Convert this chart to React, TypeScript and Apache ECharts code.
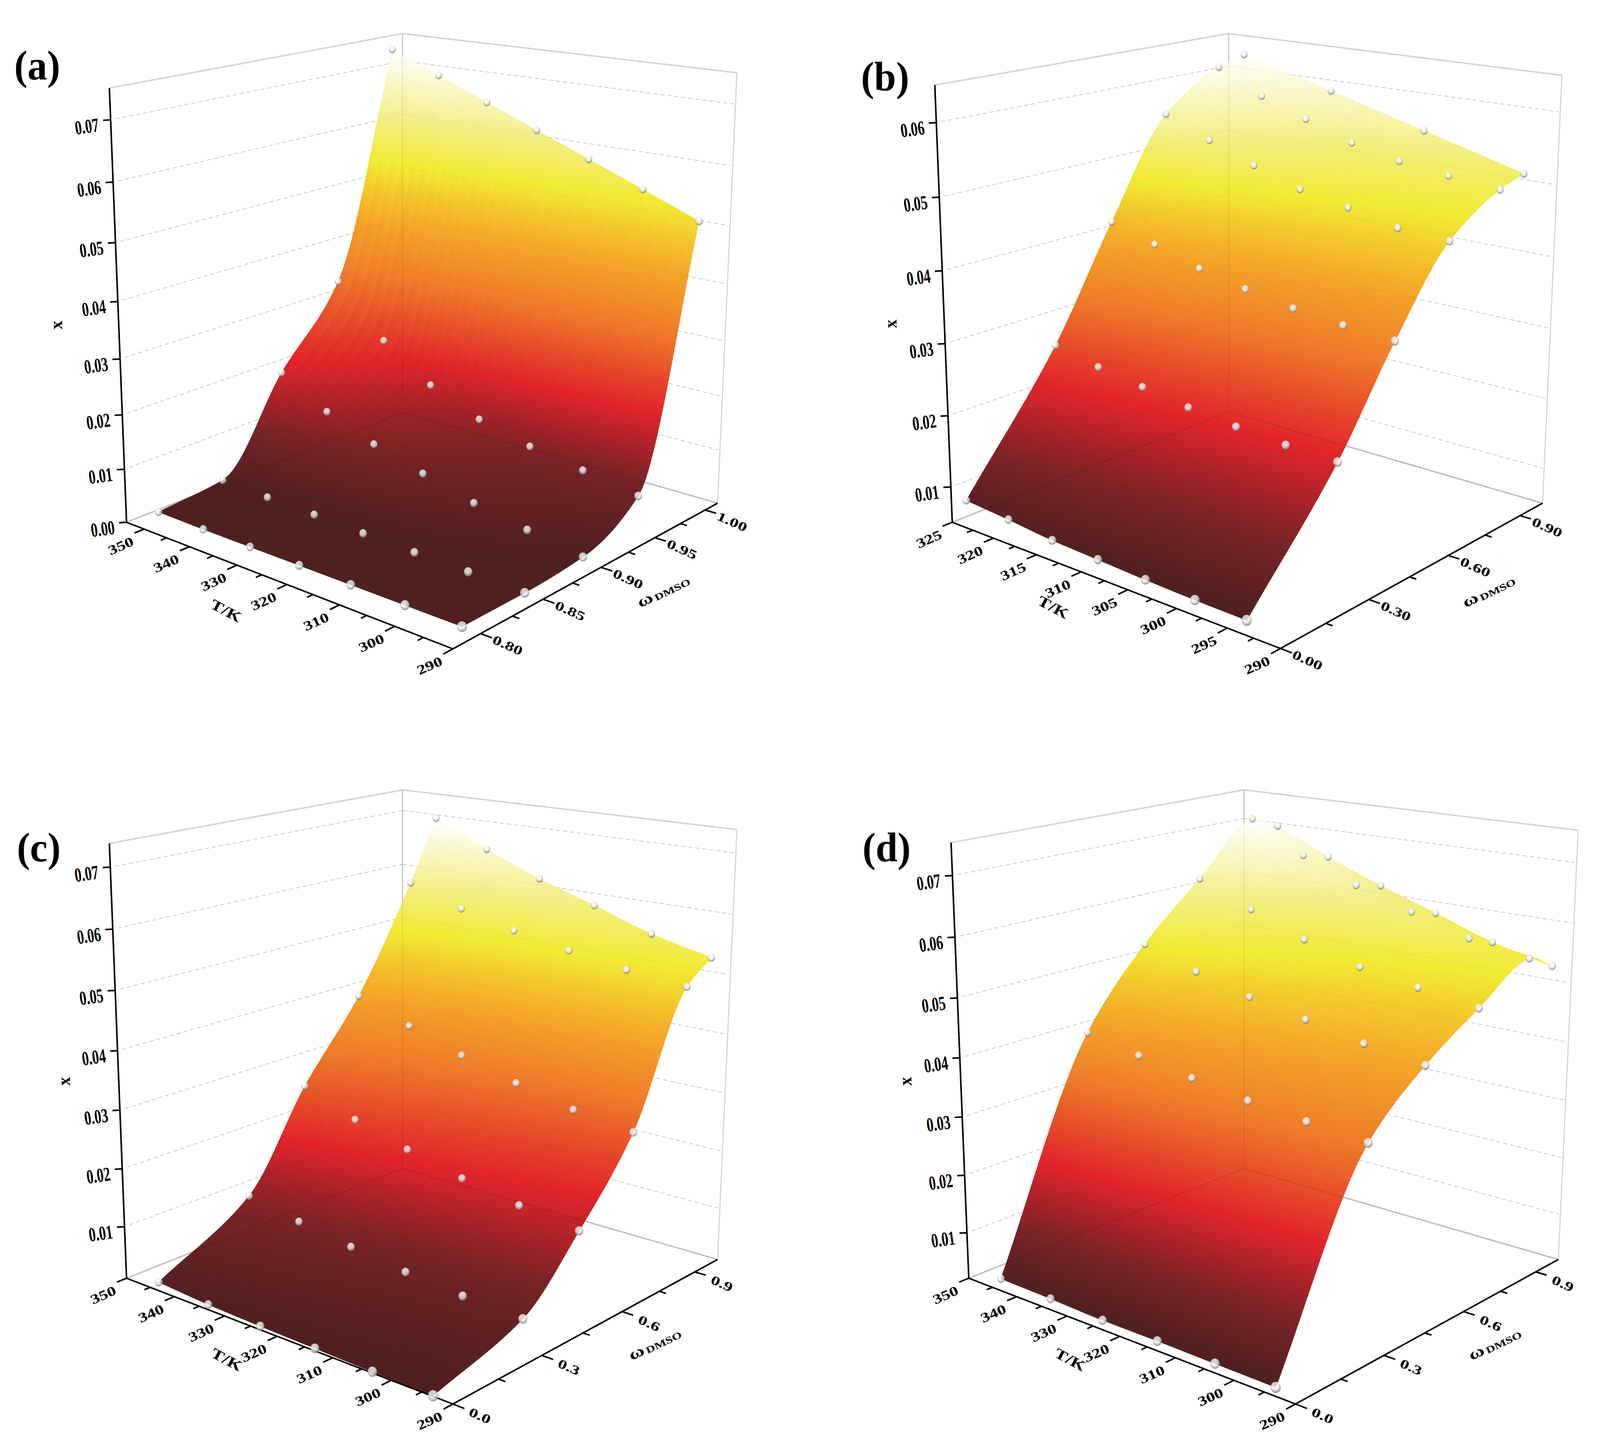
import React, { useEffect, useRef } from "react";
import * as echarts from "echarts";

const W = 4261, H = 3704;

// ---- read values ----
const temps7a = [353.15, 343.15, 333.15, 323.15, 313.15, 303.15, 293.15];
const temps7b = [323.15, 318.15, 313.15, 308.15, 303.15, 298.15, 293.15];
const temps6 = [343.15, 333.15, 323.15, 313.15, 303.15, 293.15];
const omegaA = [0.8, 0.85, 0.9, 0.95, 1.0];
const omegaB = [0, 0.3, 0.5, 0.7, 0.9, 1.0];

const xA = [
  [0.0001, 0, 0, 0, 0, 0, 0],
  [0.0013, 0.001, 0.0008, 0.0005, 0.0003, 0.0002, 0],
  [0.0179, 0.0129, 0.0094, 0.0067, 0.0042, 0.0024, 0.0008],
  [0.0319, 0.0226, 0.0164, 0.0124, 0.01, 0.0084, 0.0067],
  [0.0727, 0.0691, 0.0655, 0.0619, 0.0583, 0.0547, 0.051],
];
const xB = [
  [0.0089, 0.0084, 0.0078, 0.0075, 0.0072, 0.007, 0.0069],
  [0.0262, 0.0248, 0.0238, 0.0228, 0.0221, 0.0216, 0.0214],
  [0.0416, 0.0397, 0.0377, 0.0363, 0.0352, 0.0345, 0.0341],
  [0.0555, 0.0527, 0.0502, 0.048, 0.0467, 0.0452, 0.0448],
  [0.0609, 0.0575, 0.0551, 0.0527, 0.0512, 0.0503, 0.0496],
  [0.0621, 0.0602, 0.0584, 0.0565, 0.0546, 0.0527, 0.0508],
];
const hiddenB = [[5, 1], [5, 3], [5, 5]];
const xC = [
  [0.0025, 0.0019, 0.0016, 0.0014, 0.0012, 0.0011],
  [0.0113, 0.0096, 0.0082, 0.007, 0.0062, 0.0058],
  [0.0273, 0.0237, 0.021, 0.0187, 0.0169, 0.0156],
  [0.0405, 0.0371, 0.034, 0.0314, 0.0292, 0.0279],
  [0.0586, 0.0554, 0.0531, 0.0513, 0.0498, 0.0488],
  [0.0694, 0.065, 0.0611, 0.0579, 0.0546, 0.0523],
];
const xD = [
  [0.0041, 0.0039, 0.0036, 0.0036, 0.0035, 0.0034],
  [0.0411, 0.0393, 0.0378, 0.0364, 0.0355, 0.0347],
  [0.0537, 0.0507, 0.0483, 0.0465, 0.0447, 0.0434],
  [0.0629, 0.059, 0.0554, 0.0525, 0.0509, 0.0495],
  [0.0717, 0.0664, 0.0625, 0.0594, 0.0565, 0.0549],
  [0.0694, 0.0651, 0.0613, 0.058, 0.0546, 0.0523],
];

const zTicksAll = [0.07, 0.06, 0.05, 0.04, 0.03, 0.02, 0.01];
const tTicks10 = [350, 340, 330, 320, 310, 300, 290];
const tMinor10 = [345, 335, 325, 315, 305, 295];
const tTicks5 = [325, 320, 315, 310, 305, 300, 295, 290];
const tMinor5 = [322.5, 317.5, 312.5, 307.5, 302.5, 297.5, 292.5];
const wTicksA = [0.8, 0.85, 0.9, 0.95, 1.0];
const wMinorA = [0.825, 0.875, 0.925, 0.975];
const wTicksB = [0, 0.3, 0.6, 0.9];
const wMinorB = [0.15, 0.45, 0.75];

type Pt = number[];
const panels: any[] = [
  {
    label: "(a)", labelAt: [38, 167],
    O: [1072, 1056], L: [337, 1337], R: [1911, 1288], F: [1206, 1661], Tb: [1072, 86], Lt: [289, 215], Rt: [1960, 195],
    Tmin: 290, Tmax: 354, wmin: 0.779, wmax: 1.013, zmin: 0, zmax: 0.075,
    Ts: temps7a, ws: omegaA, xs: xA, hidden: [],
    zTicks: [...zTicksAll, 0], zDigits: 2, tTicks: tTicks10, tMinor: tMinor10, wTicks: wTicksA, wMinor: wMinorA, wDigits: 2,
    tTitle: [602, 1563], xTitle: [149, 832], wTitle: [1766, 1512],
  },
  {
    label: "(b)", labelAt: [2293, 196],
    O: [3272, 1054], L: [2536, 1337], R: [4108, 1288], F: [3410, 1660], Tb: [3272, 86], Lt: [2489, 215], Rt: [4159, 195],
    Tmin: 290, Tmax: 325, wmin: 0, wmax: 1, zmin: 0.005, zmax: 0.065,
    Ts: temps7b, ws: omegaB, xs: xB, hidden: hiddenB,
    zTicks: zTicksAll.slice(1), zDigits: 2, tTicks: tTicks5, tMinor: tMinor5, wTicks: wTicksB, wMinor: wMinorB, wDigits: 2,
    tTitle: [2805, 1554], xTitle: [2372, 829], wTitle: [3964, 1512],
  },
  {
    label: "(c)", labelAt: [45, 2169],
    O: [1072, 2991], L: [337, 3272], R: [1911, 3224], F: [1206, 3594], Tb: [1072, 2022], Lt: [289, 2150], Rt: [1960, 2131],
    Tmin: 290, Tmax: 350, wmin: 0, wmax: 1, zmin: 0.001, zmax: 0.0738,
    Ts: temps6, ws: omegaB, xs: xC, hidden: [],
    zTicks: zTicksAll, zDigits: 2, tTicks: tTicks10, tMinor: tMinor10, wTicks: wTicksB, wMinor: wMinorB, wDigits: 1,
    tTitle: [604, 3480], xTitle: [170, 2768], wTitle: [1743, 3439],
  },
  {
    label: "(d)", labelAt: [2297, 2169],
    O: [3313, 2991], L: [2580, 3272], R: [4150, 3224], F: [3450, 3594], Tb: [3313, 2022], Lt: [2532, 2150], Rt: [4202, 2131],
    Tmin: 290, Tmax: 350, wmin: 0, wmax: 1, zmin: 0.002, zmax: 0.0753,
    Ts: temps6, ws: omegaB, xs: xD, hidden: [],
    zTicks: zTicksAll, zDigits: 2, tTicks: tTicks10, tMinor: tMinor10, wTicks: wTicksB, wMinor: wMinorB, wDigits: 1,
    tTitle: [2850, 3480], xTitle: [2411, 2768], wTitle: [3980, 3439],
  },
];

const FONT = "Liberation Serif";
const colorStops: [number, number[]][] = [
  [0, [78, 32, 33]],
  [0.12, [122, 35, 38]],
  [0.27, [226, 36, 43]],
  [0.45, [238, 122, 41]],
  [0.6, [245, 171, 40]],
  [0.73, [241, 235, 50]],
  [0.85, [243, 240, 145]],
  [1, [255, 255, 255]],
];
function colormap(f: number) {
  const t = Math.max(0, Math.min(1, f));
  for (let i = 1; i < colorStops.length; i++) {
    if (t <= colorStops[i][0]) {
      const [a, ca] = colorStops[i - 1];
      const [b, cb] = colorStops[i];
      const k = (t - a) / (b - a);
      const c = ca.map((v, j) => Math.round(v + (cb[j] - v) * k));
      return `rgb(${c[0]},${c[1]},${c[2]})`;
    }
  }
  return "#fff";
}

// monotone cubic through the read values (used only to paint a smooth surface)
function pchip(xs: number[], ys: number[], x: number) {
  const n = xs.length;
  const h: number[] = [], d: number[] = [];
  for (let i = 0; i < n - 1; i++) { h.push(xs[i + 1] - xs[i]); d.push((ys[i + 1] - ys[i]) / h[i]); }
  const m = new Array(n).fill(0);
  m[0] = d[0]; m[n - 1] = d[n - 2];
  for (let i = 1; i < n - 1; i++) {
    if (d[i - 1] * d[i] <= 0) m[i] = 0;
    else {
      const w1 = 2 * h[i] + h[i - 1], w2 = h[i] + 2 * h[i - 1];
      m[i] = (w1 + w2) / (w1 / d[i - 1] + w2 / d[i]);
    }
  }
  let k = 0;
  while (k < n - 2 && x > xs[k + 1]) k++;
  const t = (x - xs[k]) / h[k];
  const t2 = t * t, t3 = t2 * t;
  return (2 * t3 - 3 * t2 + 1) * ys[k] + (t3 - 2 * t2 + t) * h[k] * m[k] + (-2 * t3 + 3 * t2) * ys[k + 1] + (t3 - t2) * h[k] * m[k + 1];
}

function makeProjection(p: any) {
  const { O, L, R, F, Tb, Lt, Rt } = p;
  const a = F[0] - L[0], b = F[0] - R[0], c = F[1] - L[1], d = F[1] - R[1];
  const e = L[0] + R[0] - O[0] - F[0], f = L[1] + R[1] - O[1] - F[1];
  const D = a * d - b * c;
  const su = (e * d - b * f) / D, sv = (a * f - e * c) / D;
  const sw1 = ((1 + su) * L[1] - O[1] + Tb[1] - Lt[1] * (1 + su)) / (Lt[1] - Tb[1]);
  const sw2 = ((1 + sv) * R[1] - O[1] + Tb[1] - Rt[1] * (1 + sv)) / (Rt[1] - Tb[1]);
  const swY = (sw1 + sw2) / 2;
  const sx1 = ((1 + su) * (L[0] - Lt[0]) + Tb[0] - O[0]) / (Lt[0] - Tb[0]);
  const sx2 = ((1 + sv) * (R[0] - Rt[0]) + Tb[0] - O[0]) / (Rt[0] - Tb[0]);
  const swX = (sx1 + sx2) / 2;
  const cube = (u: number, v: number, w: number): Pt => {
    return [swX, swY].map((sw, i) => {
      const den = 1 + u * su + v * sv + w * sw;
      return (O[i] + u * ((1 + su) * L[i] - O[i]) + v * ((1 + sv) * R[i] - O[i]) + w * ((1 + sw) * Tb[i] - O[i])) / den;
    });
  };
  const uOf = (om: number) => (p.wmax - om) / (p.wmax - p.wmin);
  const vOf = (T: number) => (p.Tmax - T) / (p.Tmax - p.Tmin);
  const wOf = (z: number) => (z - p.zmin) / (p.zmax - p.zmin);
  return { cube, uOf, vOf, wOf, at: (T: number, om: number, z: number) => cube(uOf(om), vOf(T), wOf(z)) };
}

let textScaleX = 1;

function layer(items: any[], z: number) {
  return {
    type: "custom",
    coordinateSystem: "cartesian2d",
    xAxisIndex: 0,
    yAxisIndex: 0,
    z,
    silent: true,
    clip: false,
    progressive: 0,
    animation: false,
    data: items.map((_, i) => [i, 0]),
    renderItem: (params: any, api: any) => {
      const it = items[params.dataIndex];
      if (it.kind === "line") {
        const a = api.coord(it.a), b = api.coord(it.b);
        return {
          type: "line",
          shape: { x1: a[0], y1: a[1], x2: b[0], y2: b[1] },
          style: { stroke: it.color, lineWidth: it.width, lineDash: it.dash || null, fill: null },
        };
      }
      if (it.kind === "poly") {
        return {
          type: "polygon",
          shape: { points: it.pts.map((q: Pt) => api.coord(q)) },
          style: { fill: it.color, stroke: it.color, lineWidth: 1.2 },
        };
      }
      const at = api.coord(it.at);
      return {
        type: "text",
        x: at[0],
        y: at[1],
        rotation: ((it.rot || 0) * Math.PI) / 180,
        scaleX: (it.sx || 1) * textScaleX,
        scaleY: it.sy || 1,
        style: {
          text: it.text,
          fontFamily: FONT,
          fontWeight: "bold",
          fontSize: it.size,
          fill: "#000",
          align: it.align || "center",
          verticalAlign: "middle",
          rich: it.rich,
        },
      };
    },
  };
}

function buildPanel(p: any) {
  const pr = makeProjection(p);
  const { cube, at, uOf, vOf } = pr;
  const wallColor = "#d3d3d3";
  const walls: any[] = [];
  const seg = (a: Pt, b: Pt, color: string, width: number, dash?: number[]) => ({ kind: "line", a, b, color, width, dash });
  const W0 = pr.wOf(p.zmin), W1 = pr.wOf(p.zmax);
  walls.push(seg(cube(0, 0, W0), cube(1, 0, W0), wallColor, 4));
  walls.push(seg(cube(0, 0, W0), cube(0, 1, W0), wallColor, 4));
  walls.push(seg(cube(0, 0, W1), cube(1, 0, W1), wallColor, 4));
  walls.push(seg(cube(0, 0, W1), cube(0, 1, W1), wallColor, 4));
  walls.push(seg(cube(0, 0, W0), cube(0, 0, W1), wallColor, 3));
  walls.push(seg(cube(0, 1, W0), cube(0, 1, W1), wallColor, 3));
  const gridTicks = p.zTicks.filter((z: number) => z > p.zmin + 1e-6);
  gridTicks.forEach((z: number) => {
    const w = pr.wOf(z);
    walls.push(seg(cube(0.985, 0, w), cube(0, 0, w), "#c2c2c2", 1.6, [10, 8]));
    walls.push(seg(cube(0, 0, w), cube(0, 0.995, w), "#c2c2c2", 1.6, [10, 8]));
  });

  // surface: strips are placed closer together where x rises fastest
  const nW = 110, nT = 30;
  const Tasc = [...p.Ts].reverse();
  const all = p.xs.flat();
  const cLo = Math.min(...all), cHi = Math.max(...all);
  const wLo = p.ws[0], wHi = p.ws[p.ws.length - 1];
  const colOf = (om: number) => Tasc.map((_, ti) => pchip(p.ws, p.xs.map((r: number[]) => r[r.length - 1 - ti]), om));
  const meanAt = (om: number) => colOf(om).reduce((s, v) => s + v, 0) / Tasc.length;
  const denseN = 600;
  const cum: number[] = [0];
  let prev = meanAt(wLo);
  for (let i = 1; i <= denseN; i++) {
    const cur = meanAt(wLo + ((wHi - wLo) * i) / denseN);
    cum.push(cum[i - 1] + (0.8 * Math.abs(cur - prev)) / (cHi - cLo) + 0.2 / denseN);
    prev = cur;
  }
  const wFine: number[] = [];
  for (let i = 0, k = 0; i <= nW; i++) {
    const target = (cum[denseN] * i) / nW;
    while (k < denseN && cum[k] < target) k++;
    wFine.push(wLo + ((wHi - wLo) * k) / denseN);
  }
  const tFine: number[] = [];
  for (let i = 0; i <= nT; i++) tFine.push(Tasc[0] + ((Tasc[Tasc.length - 1] - Tasc[0]) * i) / nT);
  const grid: number[][] = wFine.map((om) => {
    const col = colOf(om);
    return tFine.map((T) => pchip(Tasc, col, T));
  });
  const quads: any[] = [];
  for (let j = nW - 1; j >= 0; j--) {
    for (let i = nT - 1; i >= 0; i--) {
      const z = (grid[j][i] + grid[j + 1][i] + grid[j][i + 1] + grid[j + 1][i + 1]) / 4;
      quads.push({
        kind: "poly",
        color: colormap((z - cLo) / (cHi - cLo)),
        pts: [
          at(tFine[i], wFine[j], grid[j][i]),
          at(tFine[i + 1], wFine[j], grid[j][i + 1]),
          at(tFine[i + 1], wFine[j + 1], grid[j + 1][i + 1]),
          at(tFine[i], wFine[j + 1], grid[j + 1][i]),
        ],
      });
    }
  }

  // faint lines seen through the surface
  const faint: any[] = [
    seg(cube(0, 0, W0), cube(1, 0, W0), "rgba(0,0,0,0.10)", 3),
    seg(cube(0, 0, W0), cube(0, 1, W0), "rgba(0,0,0,0.10)", 3),
    seg(cube(0, 0, W0), cube(0, 0, W1), "rgba(0,0,0,0.07)", 3),
  ];
  gridTicks.forEach((z: number) => {
    const w = pr.wOf(z);
    faint.push(seg(cube(0.985, 0, w), cube(0, 0, w), "rgba(0,0,0,0.035)", 2));
    faint.push(seg(cube(0, 0, w), cube(0, 0.995, w), "rgba(0,0,0,0.035)", 2));
  });

  // axes
  const axes: any[] = [];
  const black = "#000";
  axes.push(seg(cube(1, 0, W0), cube(1, 0, W1), black, 4));
  axes.push(seg(cube(1, 0, W0), cube(1, 1, W0), black, 4));
  axes.push(seg(cube(1, 1, W0), cube(0, 1, W0), black, 4));
  p.zTicks.forEach((z: number) => {
    const a = cube(1, 0, pr.wOf(z));
    axes.push(seg(a, [a[0] - 20, a[1] + 1], black, 4));
    axes.push({ kind: "text", text: z.toFixed(p.zDigits), at: [a[0] - 32, a[1] + 12], align: "right", size: 52, sx: 0.7, sy: 0.98, rot: 8 });
  });
  p.tTicks.forEach((T: number) => {
    const v = vOf(T);
    const a = cube(1, v, W0), b = cube(1.03, v, W0);
    axes.push(seg(a, b, black, 4));
    axes.push({ kind: "text", text: String(T), at: [a[0] - 62, a[1] + 43], size: 42, sx: 1.12, sy: 0.82, rot: 24 });
  });
  p.tMinor.forEach((T: number) => {
    const v = vOf(T);
    axes.push(seg(cube(1, v, W0), cube(1.018, v, W0), black, 4));
  });
  p.wTicks.forEach((om: number) => {
    const u = uOf(om);
    const a = cube(u, 1, W0), b = cube(u, 1.03, W0);
    axes.push(seg(a, b, black, 4));
    axes.push({ kind: "text", text: om.toFixed(p.wDigits), at: [a[0] + 72, a[1] + 30], size: 42, sx: 1.15, sy: 0.78, rot: -24 });
  });
  p.wMinor.forEach((om: number) => {
    const u = uOf(om);
    axes.push(seg(cube(u, 1, W0), cube(u, 1.018, W0), black, 4));
  });
  axes.push({ kind: "text", text: "x", at: p.xTitle, size: 46, rot: 90 });
  axes.push({ kind: "text", text: "T/K", at: p.tTitle, size: 44, sx: 1.15, sy: 0.85, rot: -28 });
  axes.push({
    kind: "text",
    text: "{w|\u03c9}{s|DMSO}",
    at: p.wTitle,
    size: 44,
    sx: 1.15,
    sy: 0.8,
    rot: 26,
    rich: {
      w: { fontFamily: FONT, fontWeight: "bold", fontSize: 50, fill: "#000" },
      s: { fontFamily: FONT, fontWeight: "bold", fontSize: 30, fill: "#000", verticalAlign: "bottom", padding: [14, 0, 0, 4] },
    },
  });
  axes.push({ kind: "text", text: p.label, at: p.labelAt, size: 105, align: "left" });

  // measured points
  const hiddenKey = new Set(p.hidden.map((h: number[]) => h.join(",")));
  const pts: number[][] = [];
  p.ws.forEach((om: number, j: number) => {
    p.Ts.forEach((T: number, i: number) => {
      if (hiddenKey.has(`${j},${i}`)) return;
      const q = at(T, om, p.xs[j][i]);
      const depth = (uOf(om) + vOf(T)) / 2;
      pts.push([q[0], q[1], 18 + 9 * depth * depth * depth]);
    });
  });

  return [
    layer(walls, 1),
    layer(quads, 2),
    layer(faint, 3),
    layer(axes, 4),
    {
      type: "scatter",
      coordinateSystem: "cartesian2d",
      xAxisIndex: 0,
      yAxisIndex: 0,
      z: 5,
      silent: true,
      animation: false,
      clip: false,
      data: pts,
      symbol: "circle",
      symbolSize: (v: number[]) => [v[2], v[2] * 1.1],
      itemStyle: {
        color: {
          type: "radial",
          x: 0.45,
          y: 0.36,
          r: 0.62,
          colorStops: [
            { offset: 0, color: "#ffffff" },
            { offset: 0.5, color: "#f0f0f0" },
            { offset: 0.82, color: "#a9a9a9" },
            { offset: 1, color: "#6f6f6f" },
          ],
        },
      },
    },
  ];
}

export default function App() {
  const ref = useRef<HTMLDivElement>(null);
  useEffect(() => {
    document.body.style.margin = "0";
    document.body.style.background = "#fff";
    document.documentElement.style.overflow = "hidden";
    // the browser window may be narrower than asked: the whole figure is fitted to it
    const width = Math.min(W, document.documentElement.clientWidth || W);
    const height = H;
    textScaleX = width / W;
    ref.current!.style.width = width + "px";
    ref.current!.style.height = height + "px";
    const chart = echarts.init(ref.current!, undefined, { renderer: "svg", width, height });
    chart.setOption({
      animation: false,
      backgroundColor: "#fff",
      grid: { left: 0, right: 0, top: 0, bottom: 0 },
      xAxis: { type: "value", min: 0, max: W, show: false },
      yAxis: { type: "value", min: 0, max: H, inverse: true, show: false },
      tooltip: { show: false },
      series: panels.flatMap(buildPanel),
    });
    return () => chart.dispose();
  }, []);
  return <div ref={ref} style={{ width: W, height: H }} />;
}
